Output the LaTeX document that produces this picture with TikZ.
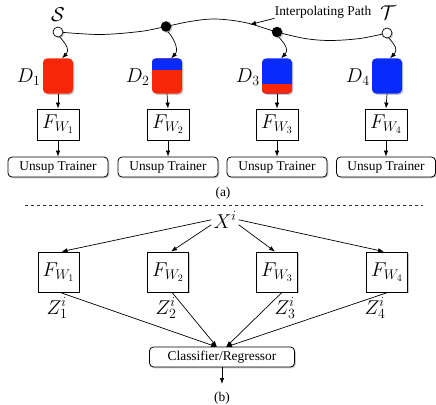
\RequirePackage{fix-cm}
\documentclass[tikz,border=0pt]{standalone}
\usepackage[no-math]{fontspec}
\setmainfont{Liberation Serif}
\usetikzlibrary{arrows.meta,shadows,calc}
\definecolor{dred}{RGB}{250,38,8}
\definecolor{dblue}{RGB}{8,42,250}
\newcommand\mfnt{\fontsize{20}{24}\selectfont}
\newcommand\tfnt{\fontsize{13.4}{16}\selectfont}
\tikzset{
  shad/.style={drop shadow={shadow xshift=1.3pt,shadow yshift=-1.3pt,opacity=0.3,fill=black!70}},
  dbox/.style={rounded corners=4pt, minimum width=30pt, minimum height=35pt, inner sep=0pt, shad},
  fboxu/.style={draw, line width=0.8pt, fill=white, minimum width=42pt, minimum height=31pt, inner sep=0pt, font=\mfnt, shad},
  fboxl/.style={draw, line width=0.8pt, fill=white, minimum width=41pt, minimum height=40pt, inner sep=0pt, font=\mfnt, shad},
  tbox/.style={draw, line width=0.8pt, rounded corners=4pt, fill=white, minimum height=20pt, inner sep=0pt, font=\tfnt, shad},
  arr/.style={-{Latex[length=6pt,width=4.5pt]}, line width=0.7pt},
  ln/.style={line width=0.7pt},
  lab/.style={inner sep=1pt, font=\mfnt},
  zlab/.style={inner sep=0pt, font=\mfnt},
  txt/.style={inner sep=0pt, font=\tfnt},
  circ/.style={circle, draw, line width=0.7pt, fill=white, minimum size=10pt, inner sep=0pt, shad},
  bdot/.style={circle, fill=black, minimum size=10.5pt, inner sep=0pt, shad},
}
\begin{document}
\begin{tikzpicture}[x=1pt,y=-1pt]
\useasboundingbox (0,0) rectangle (436,404);
% path points
\coordinate (s0) at (58,32);
\coordinate (p10) at (166,26.5);
\coordinate (p20) at (277,32);
\coordinate (t0) at (387,33);
\draw[ln] plot[smooth, tension=0.55] coordinates {(s0) (100,34.5) (140,31.5) (p10) (190,21.5) (215,19) (245,22.5) (p20) (305,38.5) (330,40.5) (360,38.5) (t0)};
\node[circ] (s) at (s0) {};
\node[bdot] (p1) at (p10) {};
\node[bdot] (p2) at (p20) {};
\node[circ] (t) at (t0) {};
\node[lab] (sl) at (58,15) {$\mathcal{S}$};
\node[lab] (tl) at (388,13) {$\mathcal{T}$};
\node[txt] (ip) at (323,12) {Interpolating Path};
\coordinate (ipa) at (250,24.5);
\draw[arr] (ip.south west) -- (ipa);

% D boxes
\node[dbox, fill=dred] (d1) at (58,76) {};
\node[dbox, fill=dred] (d2) at (167,76) {};
\node[dbox, fill=dblue] (d3) at (277,76) {};
\node[dbox, fill=dblue] (d4) at (387,76) {};
\begin{scope}
  \clip[rounded corners=4pt] (d2.north west) rectangle (d2.south east);
  \fill[dblue] (d2.north west) rectangle ($(d2.north east)+(0,12)$);
\end{scope}
\begin{scope}
  \clip[rounded corners=4pt] (d3.north west) rectangle (d3.south east);
  \fill[dred] ($(d3.south west)+(0,-10)$) rectangle (d3.south east);
\end{scope}
\node[lab, anchor=base east] (d1l) at ($(d1.west)+(-1,6)$) {$D_1$};
\node[lab, anchor=base east] (d2l) at ($(d2.west)+(-1,6)$) {$D_2$};
\node[lab, anchor=base east] (d3l) at ($(d3.west)+(-1,6)$) {$D_3$};
\node[lab, anchor=base east] (d4l) at ($(d4.west)+(-1,6)$) {$D_4$};

% squiggles
\draw[arr] (s.-70) .. controls +(7,8) and +(8,-8) .. ($(d1.north)+(4,0)$);
\draw[arr] (p1.-70) .. controls +(7,8) and +(8,-8) .. ($(d2.north)+(4,0)$);
\draw[arr] (p2.-70) .. controls +(7,8) and +(8,-8) .. ($(d3.north)+(4,0)$);
\draw[arr] (t.-70) .. controls +(7,8) and +(8,-8) .. ($(d4.north)+(3,0)$);

% upper F boxes
\node[fboxu] (fu1) at (58,124.5) {$F_{W_1}$};
\node[fboxu] (fu2) at (168,124.5) {$F_{W_2}$};
\node[fboxu] (fu3) at (277,124.5) {$F_{W_3}$};
\node[fboxu] (fu4) at (386,124.5) {$F_{W_4}$};
\node[tbox, minimum width=100pt] (u1) at (58,167) {Unsup Trainer};
\node[tbox, minimum width=100pt] (u2) at (168,167) {Unsup Trainer};
\node[tbox, minimum width=100pt] (u3) at (277,167) {Unsup Trainer};
\node[tbox, minimum width=99pt] (u4) at (386,167) {Unsup Trainer};
\foreach \i in {1,2,3,4}{
  \draw[arr] (d\i.south) -- (fu\i.north);
  \draw[arr] (fu\i.south) -- (u\i.north);
}
\node[txt] (la) at (223,193) {(a)};

% dashed separator
\coordinate (dl) at (25,205);
\coordinate (dr) at (423,205);
\draw[line width=0.6pt, dash pattern=on 3pt off 3pt, black!80] (dl) -- (dr);

% lower part
\node[lab, anchor=base, inner sep=2pt] (x) at (225,228) {$X^i$};
\node[fboxl] (f1) at (58.5,272) {$F_{W_1}$};
\node[fboxl] (f2) at (168,272) {$F_{W_2}$};
\node[fboxl] (f3) at (277,272) {$F_{W_3}$};
\node[fboxl] (f4) at (387,272) {$F_{W_4}$};
\draw[arr] (x.west) -- ($(f1.north)+(3,0)$);
\draw[arr] (x.-160) -- ($(f2.north)+(3,0)$);
\draw[arr] (x.-20) -- ($(f3.north)+(-2,0)$);
\draw[arr] (x.east) -- ($(f4.north)+(-3,0)$);
\node[zlab, anchor=base] (z1) at (57,314) {$Z_1^i$};
\node[zlab, anchor=base] (z2) at (166,314) {$Z_2^i$};
\node[zlab, anchor=base] (z3) at (285,314) {$Z_3^i$};
\node[zlab, anchor=base] (z4) at (375,314) {$Z_4^i$};
\node[tbox, minimum width=145pt] (cr) at (222,357) {Classifier/Regressor};
\coordinate (c1) at (217,347);
\coordinate (c2) at (226,347);
\draw[arr] ($(f1.south)+(1.5,0)$) -- (c1);
\draw[arr] ($(f2.south)+(4,0)$) -- (c1);
\draw[arr] ($(f3.south)+(5,0)$) -- (c2);
\draw[arr] ($(f4.south)+(1,0)$) -- (c2);
\coordinate (out) at (222,384);
\draw[arr] (cr.south) -- (out);
\node[txt] (lb) at (222,398) {(b)};
\end{tikzpicture}
\end{document}
